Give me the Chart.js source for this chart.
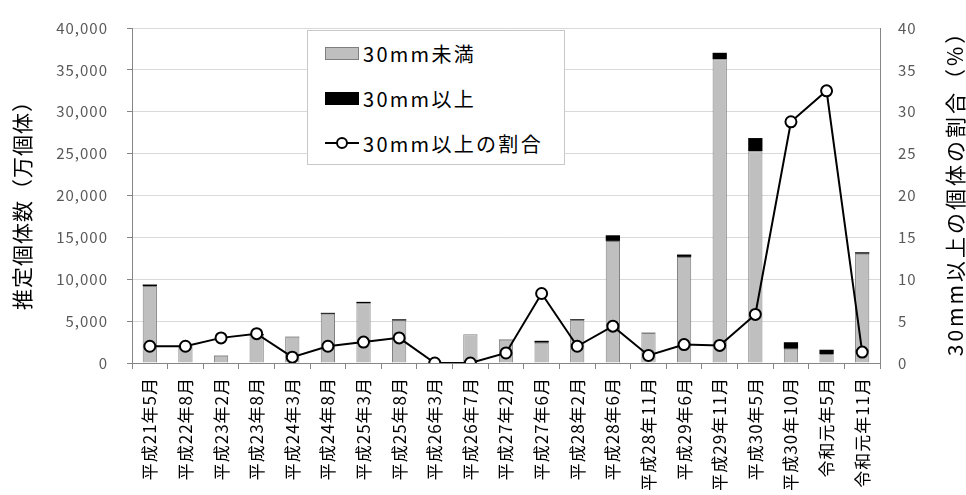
<!DOCTYPE html>
<html>
<head>
<meta charset="utf-8">
<script src="https://cdn.jsdelivr.net/npm/chart.js@4/dist/chart.umd.min.js"></script>
<style>
  html, body { margin: 0; padding: 0; background: #fff; }
  #wrap { position: relative; width: 966px; height: 495px; }
  #legend {
    position: absolute; left: 307px; top: 30px; width: 258px; height: 135px;
    border: 1px solid #c8c8c8; background: #fff; box-sizing: border-box;
    font-family: "Noto Sans CJK JP", sans-serif; font-size: 20px; letter-spacing: 2.3px; color: #000;
  }
  .row { position: absolute; left: 17px; height: 26px; display: flex; align-items: center; }
  .sw { width: 34px; height: 13px; box-sizing: border-box; margin-right: 4px; }
  .sw.gray { background: #bfbfbf; border: 1px solid #7f7f7f; }
  .sw.black { background: #000; }
  .sw.line { position: relative; height: 14px; }
  .sw.line::before { content: ""; position: absolute; left: 0; right: 0; top: 6px; height: 2px; background: #000; }
  .sw.line::after { content: ""; position: absolute; left: 11px; top: 1px; width: 8px; height: 8px; border: 2px solid #000; border-radius: 50%; background: #fff; }
</style>
</head>
<body>
<div id="wrap">
  <canvas id="c" width="966" height="495"></canvas>
  <div id="legend">
    <div class="row" style="top:9px"><span class="sw gray"></span>30mm未満</div>
    <div class="row" style="top:54px"><span class="sw black"></span>30mm以上</div>
    <div class="row" style="top:99px"><span class="sw line"></span>30mm以上の割合</div>
  </div>
</div>
<script>
// 調査時期
const labels = [
  '平成21年5月', '平成22年8月', '平成23年2月', '平成23年8月', '平成24年3月', '平成24年8月',
  '平成25年3月', '平成25年8月', '平成26年3月', '平成26年7月', '平成27年2月', '平成27年6月',
  '平成28年2月', '平成28年6月', '平成28年11月', '平成29年6月', '平成29年11月', '平成30年5月',
  '平成30年10月', '令和元年5月', '令和元年11月'
];
// 推定個体数（万個体）
const under30 = [9180, 1910, 860, 3330, 3130, 5870, 7120, 5060, 100, 3440, 2770, 2430,
  5120, 14580, 3580, 12670, 36270, 25290, 1700, 1070, 13050];
const over30 = [190, 40, 27, 120, 22, 120, 180, 160, 0, 0, 34, 220,
  105, 670, 32, 280, 770, 1570, 780, 513, 172];
// 30mm以上の割合（%）
const ratio = [2.0, 2.0, 3.0, 3.5, 0.7, 2.0, 2.5, 3.0, 0, 0, 1.2, 8.3,
  2.0, 4.4, 0.9, 2.2, 2.1, 5.8, 28.8, 32.5, 1.3];

const font = 'Noto Sans CJK JP';
const axisColor = '#868686';
const textColor = '#595959';

// 軸タイトル（どちらも下から上へ読む向き）
const axisTitles = {
  id: 'axisTitles',
  beforeDraw(chart) {
    chart.ctx.letterSpacing = '1px';
  },
  afterDraw(chart) {
    const ctx = chart.ctx;
    const put = (text, x, y, size, spacing) => {
      ctx.save();
      ctx.translate(x, y);
      ctx.rotate(-Math.PI / 2);
      ctx.letterSpacing = spacing;
      ctx.font = `${size}px "${font}"`;
      ctx.fillStyle = '#000';
      ctx.textAlign = 'center';
      ctx.textBaseline = 'middle';
      ctx.fillText(text, 0, 0);
      ctx.restore();
    };
    put('推定個体数（万個体）', 22, 200, 21, '1px');
    put('30mm以上の個体の割合（%）', 955, 188, 21, '3px');
  },
};

new Chart(document.getElementById('c'), {
  type: 'bar',
  data: {
    labels,
    datasets: [
      {
        label: '30mm以上の割合', type: 'line', data: ratio, yAxisID: 'y1', order: 0,
        borderColor: '#000', borderWidth: 2, pointRadius: 5.5, pointBorderWidth: 2,
        pointBackgroundColor: '#fff', pointBorderColor: '#000', tension: 0,
      },
      {
        label: '30mm未満', data: under30, yAxisID: 'y', order: 1,
        backgroundColor: '#bfbfbf', borderColor: '#7f7f7f', borderWidth: 1,
        barPercentage: 0.4, categoryPercentage: 1,
      },
      {
        label: '30mm以上', data: over30, yAxisID: 'y', order: 1,
        backgroundColor: '#000', borderWidth: 0,
        barPercentage: 0.4, categoryPercentage: 1,
      },
    ],
  },
  plugins: [axisTitles],
  options: {
    responsive: false,
    animation: false,
    layout: { padding: { top: 16, left: 0, right: 0, bottom: 0 } },
    plugins: { legend: { display: false }, tooltip: { enabled: false } },
    scales: {
      x: {
        stacked: true,
        afterFit: s => { s.height = 132; },
        grid: { offset: true, drawOnChartArea: false, tickLength: 6, color: axisColor },
        border: { color: axisColor },
        ticks: { minRotation: 90, maxRotation: 90, padding: 8, color: '#000', font: { family: font, size: 17 } },
      },
      y: {
        stacked: true, position: 'left', min: 0, max: 40000,
        afterFit: s => { s.width = 132; },
        grid: { color: '#d9d9d9', tickColor: axisColor, tickLength: 5 },
        border: { color: axisColor },
        ticks: { stepSize: 5000, padding: 19, color: textColor, font: { family: font, size: 15 },
          callback: v => v.toLocaleString('en-US') },
      },
      y1: {
        position: 'right', min: 0, max: 40,
        afterFit: s => { s.width = 86; },
        grid: { drawOnChartArea: false, tickLength: 0 },
        border: { display: true, color: axisColor },
        ticks: { stepSize: 5, padding: 18, color: textColor, font: { family: font, size: 15 } },
      },
    },
  },
});
</script>
</body>
</html>
